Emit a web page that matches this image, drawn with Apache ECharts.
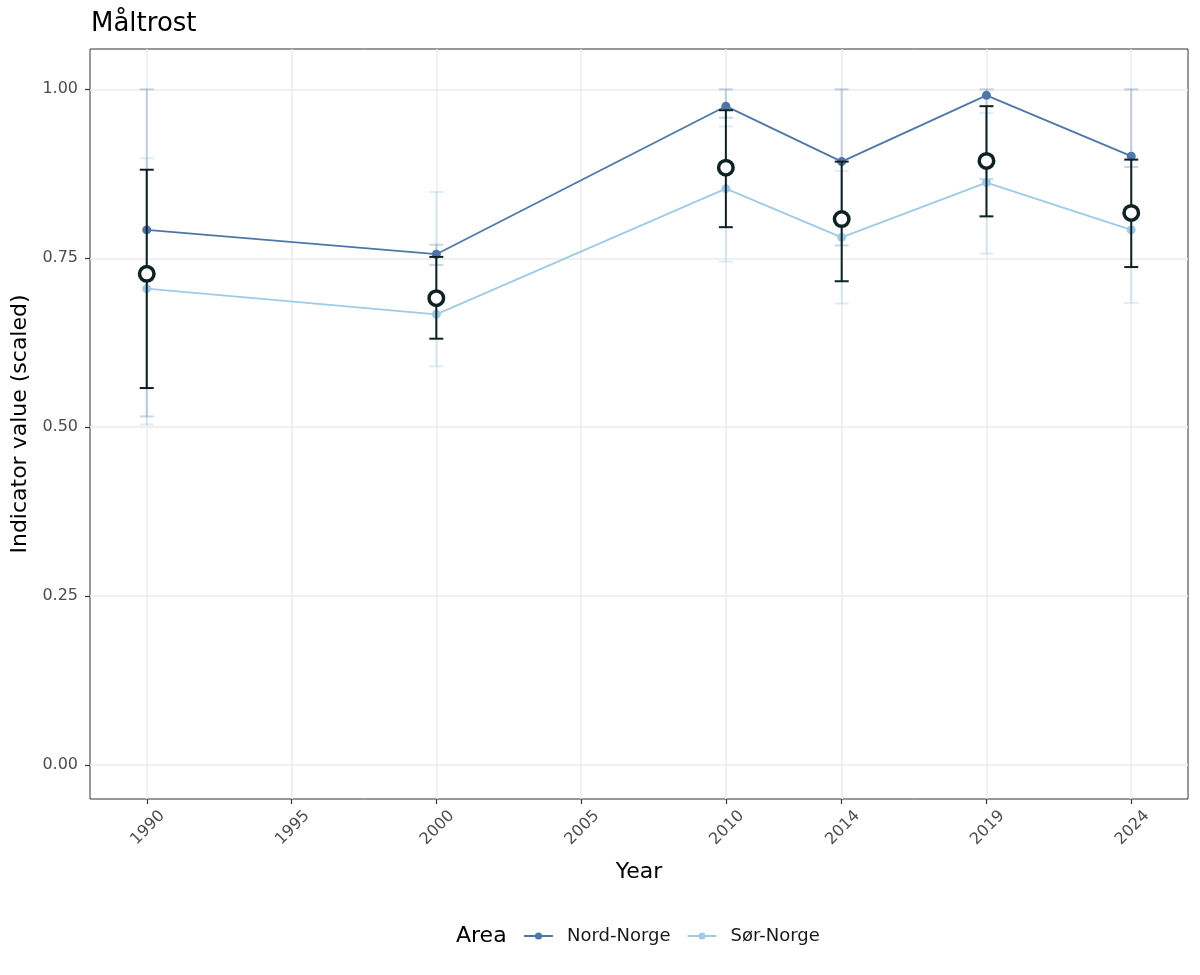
<!DOCTYPE html>
<html>
<head>
<meta charset="utf-8">
<script src="https://cdn.jsdelivr.net/npm/echarts@6/dist/echarts.min.js"></script>
<style>html,body{margin:0;padding:0;background:#fff}#c{width:1200px;height:975px}</style>
</head>
<body>
<div id="c"></div>
<script>
const years = [1990, 2000, 2010, 2014, 2019, 2024];
const xTicks = [1990, 1995, 2000, 2005, 2010, 2014, 2019, 2024];
const yTicks = [0, 0.25, 0.5, 0.75, 1.0];
const yTickLabels = ['0.00', '0.25', '0.50', '0.75', '1.00'];

const nordValue = [0.792, 0.756, 0.975, 0.893, 0.991, 0.901];
const nordLow   = [0.516, 0.740, 0.958, 0.769, 0.867, 0.885];
const nordHigh  = [1.000, 0.770, 1.000, 1.000, 1.000, 1.000];

const sorValue = [0.705, 0.667, 0.853, 0.781, 0.862, 0.792];
const sorLow   = [0.504, 0.590, 0.745, 0.683, 0.757, 0.684];
const sorHigh  = [0.898, 0.848, 0.945, 0.879, 0.965, 0.895];

const meanValue = [0.727, 0.691, 0.884, 0.808, 0.894, 0.817];
const meanLow   = [0.558, 0.631, 0.796, 0.716, 0.812, 0.737];
const meanHigh  = [0.881, 0.752, 0.969, 0.893, 0.975, 0.896];

const NORD = '#4E77A8';
const SOR = '#9FCAE8';
const DARK = '#0F2222';

function errData(lo, hi) {
  return years.map((y, i) => [y, lo[i], hi[i]]);
}
function errSeries(name, lo, hi, color, width, z) {
  return {
    type: 'custom', name: name, z: z, silent: true,
    data: errData(lo, hi),
    encode: { x: 0, y: [1, 2] },
    renderItem: function (params, api) {
      const x = api.value(0);
      const p1 = api.coord([x, api.value(1)]);
      const p2 = api.coord([x, api.value(2)]);
      const hw = 7;
      const st = { stroke: color, lineWidth: width, fill: null };
      return { type: 'group', children: [
        { type: 'line', shape: { x1: p1[0], y1: p1[1], x2: p2[0], y2: p2[1] }, style: st },
        { type: 'line', shape: { x1: p1[0] - hw, y1: p1[1], x2: p1[0] + hw, y2: p1[1] }, style: st },
        { type: 'line', shape: { x1: p2[0] - hw, y1: p2[1], x2: p2[0] + hw, y2: p2[1] }, style: st }
      ]};
    }
  };
}

const chart = echarts.init(document.getElementById('c'), null, { renderer: 'canvas' });
const FONT = 'DejaVu Sans';
chart.setOption({
  animation: false,
  backgroundColor: '#ffffff',
  textStyle: { fontFamily: FONT },
  title: { text: 'Måltrost', left: 86, top: 6, textStyle: { fontFamily: FONT, fontSize: 26, fontWeight: 'normal', color: '#000' } },
  grid: { left: 90, right: 12, top: 49, bottom: 176, show: true, borderColor: '#333333', borderWidth: 1,
    backgroundColor: 'transparent', containLabel: false, outerBoundsMode: 'none' },
  legend: {
    top: 927, left: 523, padding: 0,
    data: ['Nord-Norge', 'Sør-Norge'],
    itemWidth: 29, itemHeight: 9, itemGap: 16,
    textStyle: { fontFamily: FONT, fontSize: 18, color: '#1a1a1a', padding: [0, 0, 0, 9] }
  },
  graphic: [{ type: 'text', left: 456, top: 925, style: { text: 'Area', font: '22px DejaVu Sans', fill: '#000' } }],
  xAxis: {
    type: 'value', min: 1988.04, max: 2025.96,
    name: 'Year', nameLocation: 'middle', nameGap: 62,
    nameTextStyle: { fontFamily: FONT, fontSize: 22, color: '#000' },
    axisLine: { show: false, onZero: false },
    axisTick: { show: true, customValues: xTicks, length: 5, lineStyle: { color: '#333', width: 1.2 } },
    axisLabel: { customValues: xTicks, rotate: 45, align: 'right', verticalAlign: 'top', fontFamily: FONT, fontSize: 16,
      color: '#4d4d4d', margin: 6, padding: [9, -5, 0, 0], formatter: v => String(v) },
    splitLine: { show: true, lineStyle: { color: '#ebebeb', width: 1.5 } }
  },
  yAxis: {
    type: 'value', min: -0.05, max: 1.0596,
    name: 'Indicator value (scaled)', nameLocation: 'middle', nameGap: 59, nameRotate: 90,
    nameTextStyle: { fontFamily: FONT, fontSize: 22, color: '#000' },
    axisLine: { show: false, onZero: false },
    axisTick: { show: true, customValues: yTicks, length: 5, lineStyle: { color: '#333', width: 1.2 } },
    axisLabel: { customValues: yTicks, fontFamily: FONT, fontSize: 16, color: '#4d4d4d', margin: 12,
      formatter: v => yTickLabels[yTicks.findIndex(t => Math.abs(t - v) < 1e-6)] },
    splitLine: { show: true, lineStyle: { color: '#ebebeb', width: 1.5 } }
  },
  series: [
    errSeries('nordErr', nordLow, nordHigh, 'rgba(78,119,168,0.3)', 2, 1),
    errSeries('sorErr', sorLow, sorHigh, 'rgba(159,202,232,0.35)', 2, 1),
    { type: 'line', name: 'Nord-Norge', z: 2, data: years.map((y, i) => [y, nordValue[i]]),
      symbol: 'circle', symbolSize: 9, showSymbol: true,
      lineStyle: { color: NORD, width: 1.8 }, itemStyle: { color: NORD } },
    { type: 'line', name: 'Sør-Norge', z: 2, data: years.map((y, i) => [y, sorValue[i]]),
      symbol: 'circle', symbolSize: 9, showSymbol: true,
      lineStyle: { color: SOR, width: 1.8 }, itemStyle: { color: SOR } },
    errSeries('meanErr', meanLow, meanHigh, DARK, 2, 3),
    { type: 'scatter', name: 'mean', z: 4, data: years.map((y, i) => [y, meanValue[i]]),
      symbol: 'circle', symbolSize: 14.5,
      itemStyle: { color: '#ffffff', borderColor: DARK, borderWidth: 3.5, opacity: 1 } }
  ]
});
</script>
</body>
</html>
